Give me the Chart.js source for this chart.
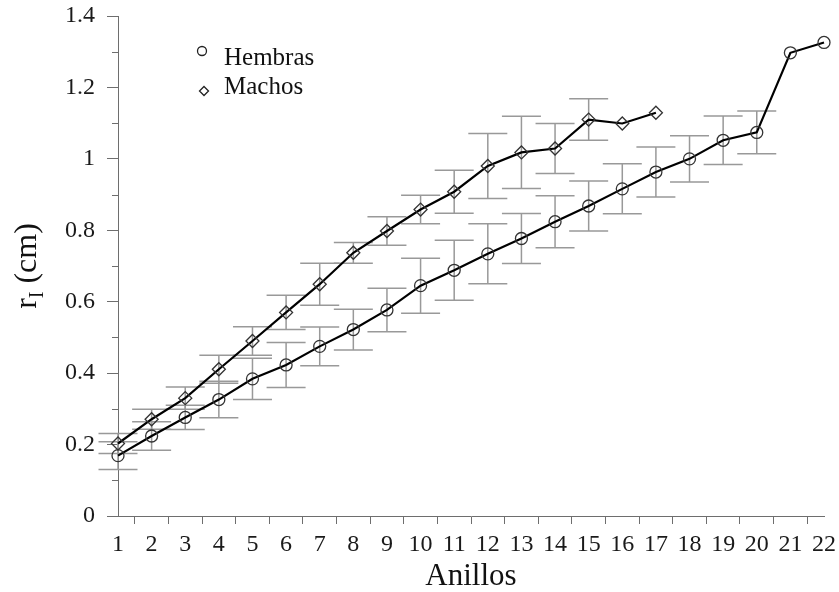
<!DOCTYPE html>
<html>
<head>
<meta charset="utf-8">
<script src="https://cdn.jsdelivr.net/npm/chart.js@4.4.0/dist/chart.umd.min.js"></script>
<style>
  html, body { margin: 0; padding: 0; background: #fff; }
  #wrap { width: 839px; height: 592px; }
</style>
</head>
<body>
<div id="wrap"><canvas id="ringChart"></canvas></div>
<script>
// Anillos (rings) on the x axis
const anillos = ['1', '2', '3', '4', '5', '6', '7', '8', '9', '10', '11',
  '12', '13', '14', '15', '16', '17', '18', '19', '20', '21', '22'];

// mean radius (cm) and standard deviation per ring
const hembrasMean = [0.169, 0.224, 0.276, 0.326, 0.384, 0.423, 0.475, 0.522, 0.577, 0.645, 0.688,
  0.734, 0.777, 0.824, 0.868, 0.916, 0.963, 1.000, 1.052, 1.074, 1.297, 1.326];
const hembrasSd = [0.039, 0.040, 0.034, 0.051, 0.058, 0.063, 0.054, 0.057, 0.061, 0.077, 0.084,
  0.084, 0.070, 0.073, 0.070, 0.070, 0.070, 0.065, 0.068, 0.060, null, null];

const machosMean = [0.203, 0.271, 0.330, 0.411, 0.490, 0.570, 0.649, 0.737, 0.798, 0.858, 0.908,
  0.980, 1.018, 1.029, 1.110, 1.099, 1.129];
const machosSd = [0.028, 0.028, 0.031, 0.039, 0.040, 0.048, 0.059, 0.029, 0.040, 0.040, 0.060,
  0.091, 0.101, 0.070, 0.058, null, null];

const yTickLabels = ['0', '0.2', '0.4', '0.6', '0.8', '1', '1.2', '1.4'];

const serif = '"Liberation Serif", "Times New Roman", serif';
const axisColor = '#6e6e6e';

// gray error bars with wide caps, drawn under the lines
const errorBars = {
  id: 'errorBars',
  beforeDatasetsDraw(chart) {
    const { ctx, scales: { x, y } } = chart;
    ctx.save();
    ctx.strokeStyle = '#999';
    ctx.lineWidth = 1.5;
    chart.data.datasets.forEach(ds => {
      ds.data.forEach((v, i) => {
        const sd = ds.sd[i];
        if (v == null || sd == null) return;
        const px = x.getPixelForValue(i);
        const top = y.getPixelForValue(v + sd);
        const bot = y.getPixelForValue(v - sd);
        ctx.beginPath();
        ctx.moveTo(px, top); ctx.lineTo(px, bot);
        ctx.moveTo(px - 19.5, top); ctx.lineTo(px + 19.5, top);
        ctx.moveTo(px - 19.5, bot); ctx.lineTo(px + 19.5, bot);
        ctx.stroke();
      });
    });
    ctx.restore();
  }
};

// short minor ticks on the y axis, legend and y title
const decorations = {
  id: 'decorations',
  afterDraw(chart) {
    const { ctx, scales: { x, y } } = chart;
    ctx.save();

    // minor ticks
    ctx.strokeStyle = axisColor;
    ctx.lineWidth = 1;
    y.ticks.forEach(t => {
      if (Math.round(t.value * 10) % 2 === 0) return;
      const py = Math.round(y.getPixelForValue(t.value)) + 0.5;
      ctx.beginPath();
      ctx.moveTo(x.left - 6, py);
      ctx.lineTo(x.left, py);
      ctx.stroke();
    });

    // legend
    const [hem, mac] = chart.data.datasets;
    ctx.strokeStyle = '#222';
    ctx.lineWidth = 1.3;
    ctx.beginPath();
    ctx.arc(202, 51, 4.5, 0, Math.PI * 2);
    ctx.stroke();
    ctx.beginPath();
    ctx.moveTo(204, 86.5); ctx.lineTo(208.5, 91); ctx.lineTo(204, 95.5); ctx.lineTo(199.5, 91);
    ctx.closePath();
    ctx.stroke();
    ctx.fillStyle = '#111';
    ctx.font = '25px ' + serif;
    ctx.textBaseline = 'alphabetic';
    ctx.textAlign = 'left';
    ctx.fillText(hem.label, 224, 65);
    ctx.fillText(mac.label, 224, 94);

    // y title: r with subscript, rotated
    const big = '32px ' + serif;
    const small = '20px ' + serif;
    ctx.font = big;
    const wR = ctx.measureText('r').width;
    const wUnit = ctx.measureText(' (cm)').width;
    ctx.font = small;
    const wSub = ctx.measureText('I').width;
    const total = wR + wSub + wUnit;
    const cy = (y.top + y.bottom) / 2;
    ctx.translate(36, cy + total / 2);
    ctx.rotate(-Math.PI / 2);
    ctx.font = big;
    ctx.fillText('r', 0, 0);
    ctx.font = small;
    ctx.fillText('I', wR, 7);
    ctx.font = big;
    ctx.fillText(' (cm)', wR + wSub, 0);

    ctx.restore();
  }
};

const ctx = document.getElementById('ringChart');
new Chart(ctx, {
  type: 'line',
  data: {
    labels: anillos,
    datasets: [
      {
        label: 'Hembras',
        data: hembrasMean,
        sd: hembrasSd,
        borderColor: '#000',
        borderWidth: 2.2,
        tension: 0,
        pointStyle: 'circle',
        pointRadius: 6,
        pointBorderWidth: 1.3,
        pointBorderColor: '#333',
        pointBackgroundColor: 'rgba(255,255,255,0)',
        clip: false
      },
      {
        label: 'Machos',
        data: machosMean,
        sd: machosSd,
        borderColor: '#000',
        borderWidth: 2.2,
        tension: 0,
        pointStyle: 'rectRot',
        pointRadius: 6.5,
        pointBorderWidth: 1.3,
        pointBorderColor: '#333',
        pointBackgroundColor: 'rgba(255,255,255,0)',
        clip: false
      }
    ]
  },
  options: {
    responsive: true,
    maintainAspectRatio: false,
    animation: false,
    layout: { padding: { top: 16, right: 15, left: 0, bottom: 0 } },
    plugins: {
      legend: { display: false },
      tooltip: { enabled: false }
    },
    scales: {
      x: {
        type: 'category',
        offset: false,
        afterFit: s => {
          s.height = 76;
          s.paddingLeft = 0;
          s.paddingRight = 0;
        },
        grid: {
          offset: true,
          drawOnChartArea: false,
          tickLength: 8,
          tickColor: axisColor
        },
        border: { color: axisColor, width: 1 },
        ticks: {
          autoSkip: false,
          maxRotation: 0,
          padding: 6,
          color: '#1a1a1a',
          font: { family: serif, size: 24 }
        },
        title: {
          display: true,
          text: 'Anillos',
          color: '#111',
          padding: { top: 0, bottom: -3 },
          font: { family: serif, size: 31 }
        }
      },
      y: {
        min: 0,
        max: 1.4,
        afterFit: s => {
          s.width = 118;
          s.paddingTop = 0;
          s.paddingBottom = 0;
        },
        grid: {
          drawOnChartArea: false,
          tickLength: 11,
          tickColor: c => (Math.round(c.tick.value * 10) % 2 === 0 ? axisColor : 'rgba(0,0,0,0)')
        },
        border: { color: axisColor, width: 1 },
        ticks: {
          stepSize: 0.1,
          autoSkip: false,
          padding: 12,
          color: '#1a1a1a',
          font: { family: serif, size: 24 },
          callback: v => {
            const k = Math.round(v * 10);
            return k % 2 === 0 ? yTickLabels[k / 2] : '';
          }
        }
      }
    }
  },
  plugins: [errorBars, decorations]
});
</script>
</body>
</html>
